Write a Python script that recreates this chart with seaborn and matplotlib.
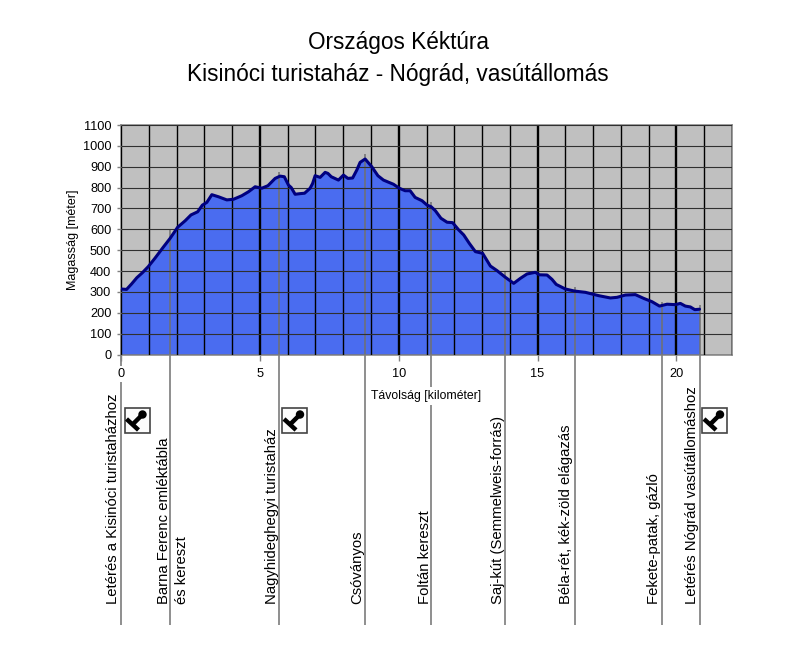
"""Elevation profile of the Kisinóci turistaház - Nógrád section (Országos Kéktúra)."""

import matplotlib.pyplot as plt
from matplotlib.lines import Line2D
from matplotlib.patches import Circle, Rectangle
from matplotlib.ticker import MultipleLocator
from matplotlib.transforms import Affine2D
import seaborn as sns

KM = [
    0.0, 0.2, 0.38, 0.57, 0.77, 0.98, 1.22, 1.52, 1.77, 2.04, 2.31, 2.52, 2.76, 2.93, 3.09,
    3.27, 3.51, 3.81, 4.05, 4.35, 4.59, 4.83, 5.07, 5.29, 5.55, 5.73, 5.88, 6.03, 6.13, 6.27,
    6.45, 6.61, 6.81, 6.9, 6.99, 7.17, 7.35, 7.45, 7.57, 7.83, 8.01, 8.17, 8.34, 8.49, 8.61,
    8.79, 9.03, 9.25, 9.45, 9.81, 10.02, 10.23, 10.41, 10.59, 10.84, 11.02, 11.17, 11.32,
    11.52, 11.74, 11.94, 12.16, 12.34, 12.54, 12.76, 13.02, 13.3, 13.54, 13.84, 14.14, 14.38,
    14.62, 14.92, 15.06, 15.34, 15.52, 15.67, 16.0, 16.33, 16.72, 17.2, 17.62, 17.86, 18.16,
    18.52, 18.82, 19.12, 19.39, 19.66, 19.96, 20.14, 20.32, 20.5, 20.66, 20.83,
]
ELEVATION = [
    314, 312, 338, 368, 392, 421, 461, 514, 557, 610, 641, 669, 684, 716, 729,
    766, 756, 741, 744, 761, 780, 804, 797, 809, 844, 855, 852, 812, 800, 768,
    771, 773, 797, 820, 857, 849, 873, 868, 852, 836, 860, 844, 846, 884, 921,
    937, 900, 857, 836, 816, 797, 785, 785, 753, 737, 716, 708, 689,
    653, 634, 632, 597, 573, 533, 493, 485, 424, 402, 370, 341, 365,
    386, 394, 382, 381, 360, 336, 314, 304, 298, 282, 271, 274, 285,
    287, 269, 253, 232, 241, 239, 245, 232, 228, 215, 217,
]

# waypoints: position on the route, how high the line rises, label
WAYPOINT_KM = [0.0, 1.78, 5.7, 8.78, 11.17, 13.83, 16.33, 19.47, 20.83]
WAYPOINT_TOP = [314, 595, 875, 960, 730, 395, 325, 250, 235]
WAYPOINT_LABELS = [
    "Letérés a Kisinóci turistaházhoz",
    "Barna Ferenc emléktábla\nés kereszt",
    "Nagyhideghegyi turistaház",
    "Csóványos",
    "Foltán kereszt",
    "Saj-kút (Semmelweis-forrás)",
    "Béla-rét, kék-zöld elágazás",
    "Fekete-patak, gázló",
    "Letérés Nógrád vasútállomáshoz",
]
LABEL_X_PX = [113, 173, 272, 357, 425, 498, 566, 654, 692]
STAMP_LEFT_PX = [124.5, 282, 702]

TITLE_LINES = ["Országos Kéktúra", "Kisinóci turistaház - Nógrád, vasútállomás"]

W, H = 800, 656
px = Affine2D().scale(1, -1).translate(0, H)


def draw_stamp(fig, left, top=408, size=25):
    fig.add_artist(Rectangle((left, top), size, size, transform=px, fc="#fcfcfc", ec="#444444", lw=1.2))
    for (x0, y0), (x1, y1) in [((2, 11), (14, 22)), ((8, 16.5), (17.5, 7))]:
        fig.add_artist(Line2D([left + x0, left + x1], [top + y0, top + y1], transform=px,
                              color="black", lw=3.2, solid_capstyle="butt"))
    fig.add_artist(Circle((left + 18, top + 6.5), 4.2, transform=px, fc="black", ec="none"))


def main():
    sns.set_style("white")
    plt.rcParams["font.family"] = ["Liberation Sans", "DejaVu Sans"]
    plt.rcParams["text.color"] = "black"
    plt.rcParams["axes.labelcolor"] = "black"
    plt.rcParams["xtick.labelcolor"] = "black"
    plt.rcParams["ytick.labelcolor"] = "black"

    fig = plt.figure(figsize=(W / 100, H / 100), dpi=100, facecolor="white")
    ax = fig.add_axes([121 / W, 1 - 354.5 / H, (732 - 121) / W, (354.5 - 125) / H])
    ax.set_facecolor("#c0c0c0")
    ax.set_axisbelow(False)

    ax.fill_between(KM, 0, ELEVATION, color="#4a6cf0", lw=0, zorder=1)
    ax.vlines(WAYPOINT_KM, -1296, WAYPOINT_TOP, color="#707070", lw=1.1, clip_on=False, zorder=2.2)
    sns.lineplot(x=KM, y=ELEVATION, sort=False, color="#000080", lw=2.2, ax=ax, zorder=3)

    ax.set_xlim(0, 22)
    ax.set_ylim(0, 1100)
    ax.xaxis.set_major_locator(MultipleLocator(5))
    ax.xaxis.set_minor_locator(MultipleLocator(1))
    ax.yaxis.set_major_locator(MultipleLocator(100))
    ax.grid(True, axis="y", which="major", color="#303030", lw=0.8)
    ax.grid(True, axis="x", which="major", color="black", lw=1.7)
    ax.grid(True, axis="x", which="minor", color="black", lw=1.0)

    ax.tick_params(axis="x", which="major", length=4, width=1, color="#808080", labelsize=9.2, pad=6, bottom=True)
    ax.tick_params(axis="x", which="minor", length=0)
    ax.tick_params(axis="y", length=3, width=1, color="#808080", labelsize=9.2, pad=4, left=True)
    for label in ax.get_xticklabels():
        label.set_bbox(dict(fc="white", ec="none", pad=1.5))
    for spine in ax.spines.values():
        spine.set_color("#808080")
        spine.set_linewidth(1.1)

    ax.set_xlabel("Távolság [kilométer]", fontsize=8.8, labelpad=7, bbox=dict(fc="white", ec="none", pad=2))
    ax.set_ylabel("Magasság [méter]", fontsize=9, labelpad=2.5)

    for text, y in zip(TITLE_LINES, [42, 75]):
        fig.text(398, y, text, transform=px, ha="center", va="center", fontsize=16.3)

    for text, x in zip(WAYPOINT_LABELS, LABEL_X_PX):
        fig.text(x, 604, text, transform=px, rotation=90, ha="center", va="bottom", fontsize=10.75,
                 linespacing=1.35, multialignment="left")

    for left in STAMP_LEFT_PX:
        draw_stamp(fig, left)

    fig.savefig("out.png", dpi=100)


if __name__ == "__main__":
    main()
